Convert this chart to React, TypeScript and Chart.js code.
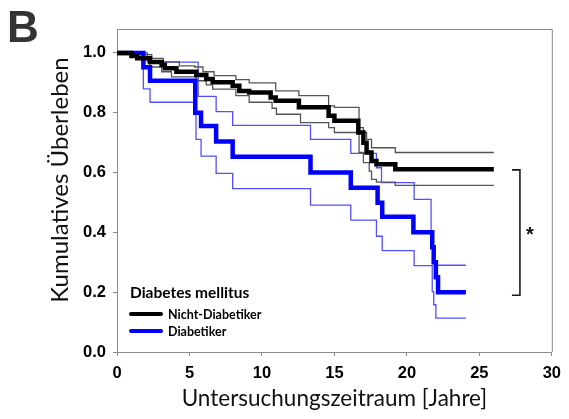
import React, { useEffect, useRef } from 'react';
import { Chart, registerables } from 'chart.js';

Chart.register(...registerables);

// ---- Data ----
const xTickStep = 5;
const yTickStep = 0.2;
const xMax = 30;
const yMax = 1.08;

// Nicht-Diabetiker (Kaplan-Meier estimate)
const nichtTimes = [0, 1.0, 1.4, 2.28, 3.08, 3.3, 4.1, 5.47, 6.16, 6.6, 7.98, 8.44, 9.12, 10.6, 10.95, 12.55, 14.6, 15.0, 16.65, 17.0, 17.22, 17.56, 17.9, 19.2, 26.0];
const nichtSurv = [1.0, 0.99, 0.982, 0.97, 0.96, 0.949, 0.937, 0.926, 0.913, 0.902, 0.89, 0.873, 0.868, 0.851, 0.84, 0.818, 0.79, 0.773, 0.734, 0.70, 0.667, 0.639, 0.628, 0.611, 0.611];
// Nicht-Diabetiker upper CI
const nichtUpTimes = [0, 1.3, 2.4, 3.19, 4.3, 5.36, 5.93, 6.7, 8.2, 9.12, 10.95, 12.55, 14.6, 15.0, 16.7, 17.0, 17.22, 17.56, 19.2, 26.0];
const nichtUpSurv = [1.0, 0.994, 0.982, 0.97, 0.957, 0.953, 0.937, 0.924, 0.911, 0.9, 0.873, 0.857, 0.823, 0.818, 0.75, 0.734, 0.711, 0.683, 0.667, 0.667];
// Nicht-Diabetiker lower CI
const nichtLoTimes = [0, 1.3, 2.28, 3.08, 3.76, 5.47, 6.16, 6.6, 8.2, 9.12, 10.7, 11.0, 12.66, 14.6, 15.0, 16.7, 17.0, 17.4, 17.56, 17.9, 19.2, 26.0];
const nichtLoSurv = [1.0, 0.98, 0.953, 0.937, 0.92, 0.907, 0.893, 0.879, 0.857, 0.835, 0.815, 0.795, 0.767, 0.75, 0.734, 0.667, 0.633, 0.605, 0.577, 0.568, 0.557, 0.557];

// Diabetiker (Kaplan-Meier estimate)
const diabTimes = [0, 1.82, 2.28, 5.4, 5.8, 6.84, 7.98, 13.35, 16.13, 17.98, 18.3, 20.45, 21.75, 21.85, 22.0, 22.15, 24.07];
const diabSurv = [1.0, 0.952, 0.907, 0.80, 0.756, 0.704, 0.653, 0.60, 0.549, 0.499, 0.452, 0.40, 0.35, 0.30, 0.25, 0.20, 0.20];
// Diabetiker upper CI
const diabUpTimes = [0, 2.1, 5.6, 6.84, 7.98, 13.35, 16.13, 17.9, 18.25, 20.5, 21.67, 21.9, 24.07];
const diabUpSurv = [1.0, 0.969, 0.855, 0.804, 0.758, 0.711, 0.664, 0.616, 0.566, 0.51, 0.35, 0.29, 0.29];
// Diabetiker lower CI
const diabLoTimes = [0, 1.82, 2.28, 5.45, 5.8, 6.84, 7.98, 13.35, 16.13, 17.9, 18.3, 20.5, 21.75, 21.85, 22.0, 24.07];
const diabLoSurv = [1.0, 0.88, 0.835, 0.711, 0.655, 0.597, 0.546, 0.491, 0.441, 0.387, 0.339, 0.289, 0.202, 0.158, 0.113, 0.113];

// Significance bracket values
const bracketTop = 0.609;
const bracketBottom = 0.19;
const bracketX = 27.8;
const bracketTickX = 27.25;

const xTitle = 'Untersuchungszeitraum [Jahre]';
const yTitle = 'Kumulatives Überleben';
const legendTitle = 'Diabetes mellitus';
const seriesNames = ['Nicht-Diabetiker', 'Diabetiker'];
const seriesColors = ['#000000', '#0000ff'];
const ciColors = ['#555555', '#5050ff'];

const toPoints = (t: number[], s: number[]) => t.map((x, i) => ({ x, y: s[i] }));

const boxPlugin = {
  id: 'boxAndExtras',
  afterDraw(chart: any) {
    const { ctx, chartArea } = chart;
    const xs = chart.scales.x;
    const ys = chart.scales.y;
    ctx.save();
    // frame top/right
    ctx.strokeStyle = '#8a8a8a';
    ctx.lineWidth = 1;
    ctx.beginPath();
    ctx.moveTo(chartArea.left, chartArea.top + 0.5);
    ctx.lineTo(chartArea.right + 0.5, chartArea.top + 0.5);
    ctx.lineTo(chartArea.right + 0.5, chartArea.bottom);
    ctx.stroke();

    // Panel letter
    ctx.fillStyle = '#333333';
    ctx.font = 'bold 44px "Liberation Sans", Arial, sans-serif';
    ctx.textBaseline = 'alphabetic';
    ctx.textAlign = 'left';
    ctx.fillText('B', 7, 42);

    // Y axis title
    ctx.save();
    ctx.translate(60, chartArea.top + 151);
    ctx.rotate(-Math.PI / 2);
    ctx.fillStyle = '#111';
    ctx.font = '24px Lato, sans-serif';
    ctx.textAlign = 'center';
    ctx.textBaseline = 'middle';
    ctx.fillText(yTitle, 0, 0);
    ctx.restore();

    // Legend
    const lx = chartArea.left + 13;
    const lb = chartArea.bottom;
    ctx.fillStyle = '#000';
    ctx.font = 'bold 15.5px Lato, sans-serif';
    ctx.textBaseline = 'middle';
    ctx.textAlign = 'left';
    ctx.fillText(legendTitle, lx, lb - 59);
    ctx.font = 'bold 12.5px Lato, sans-serif';
    seriesNames.forEach((name, i) => {
      const yy = lb - 38 + i * 17;
      ctx.strokeStyle = seriesColors[i];
      ctx.lineWidth = 4;
      ctx.lineCap = 'round';
      ctx.beginPath();
      ctx.moveTo(lx + 1, yy);
      ctx.lineTo(lx + 31, yy);
      ctx.stroke();
      ctx.fillStyle = '#000';
      ctx.fillText(name, lx + 38, yy + 0.5);
    });

    // Significance bracket
    const bx = xs.getPixelForValue(bracketX);
    const btx = xs.getPixelForValue(bracketTickX);
    const by1 = ys.getPixelForValue(bracketTop);
    const by2 = ys.getPixelForValue(bracketBottom);
    ctx.strokeStyle = '#1a1a1a';
    ctx.lineWidth = 1.6;
    ctx.lineCap = 'butt';
    ctx.beginPath();
    ctx.moveTo(btx, by1);
    ctx.lineTo(bx, by1);
    ctx.lineTo(bx, by2);
    ctx.lineTo(btx, by2);
    ctx.stroke();
    ctx.fillStyle = '#111';
    ctx.font = 'bold 20px "Liberation Sans", Arial, sans-serif';
    ctx.textAlign = 'center';
    ctx.textBaseline = 'middle';
    ctx.fillText('*', bx + 10, (by1 + by2) / 2 + 3);
    ctx.restore();
  },
};

export default function App() {
  const canvasRef = useRef<HTMLCanvasElement | null>(null);

  useEffect(() => {
    if (!canvasRef.current) return;
    const mk = (label: string, t: number[], s: number[], color: string, width: number) => ({
      label,
      data: toPoints(t, s),
      borderColor: color,
      backgroundColor: color,
      borderWidth: width,
      pointRadius: 0,
      stepped: 'before' as const,
      fill: false,
      tension: 0,
    });
    const chart = new Chart(canvasRef.current, {
      type: 'line',
      data: {
        datasets: [
          mk(seriesNames[0], nichtTimes, nichtSurv, seriesColors[0], 4.5),
          mk(seriesNames[1], diabTimes, diabSurv, seriesColors[1], 4.5),
          mk('Nicht-Diabetiker 95% KI oben', nichtUpTimes, nichtUpSurv, ciColors[0], 1.3),
          mk('Nicht-Diabetiker 95% KI unten', nichtLoTimes, nichtLoSurv, ciColors[0], 1.3),
          mk('Diabetiker 95% KI oben', diabUpTimes, diabUpSurv, ciColors[1], 1.3),
          mk('Diabetiker 95% KI unten', diabLoTimes, diabLoSurv, ciColors[1], 1.3),
        ],
      },
      options: {
        responsive: false,
        animation: false,
        layout: { padding: { left: 0, top: 29, right: 14, bottom: 0 } },
        plugins: {
          legend: { display: false },
          tooltip: { enabled: false },
        },
        scales: {
          x: {
            type: 'linear',
            min: 0,
            max: xMax,
            afterFit: (scale: any) => { scale.height = 67; },
            ticks: {
              stepSize: xTickStep,
              color: '#000',
              font: { family: '"Liberation Sans", Arial, sans-serif', size: 16.5, weight: 'bold' },
              padding: 8,
            },
            grid: { drawOnChartArea: false, drawTicks: true, tickLength: 4, color: '#8a8a8a' },
            border: { color: '#8a8a8a', width: 1 },
            title: {
              display: true,
              text: xTitle,
              color: '#111',
              font: { family: 'Lato, sans-serif', size: 22.5 },
              padding: { top: 0, bottom: 7 },
            },
          },
          y: {
            type: 'linear',
            min: 0,
            max: yMax,
            afterFit: (scale: any) => { scale.width = 117; },
            afterBuildTicks: (scale: any) => {
              scale.ticks = scale.ticks.filter((t: any) => t.value <= 1.0001);
            },
            ticks: {
              stepSize: yTickStep,
              color: '#000',
              font: { family: '"Liberation Sans", Arial, sans-serif', size: 16.5, weight: 'bold' },
              padding: 7,
              callback: (v: any) => Number(v).toFixed(1),
            },
            grid: { drawOnChartArea: false, drawTicks: true, tickLength: 4, color: '#8a8a8a' },
            border: { color: '#8a8a8a', width: 1 },
          },
        },
      },
      plugins: [boxPlugin],
    });
    return () => chart.destroy();
  }, []);

  return (
    <div style={{ position: 'fixed', left: 0, top: 0, width: 569, height: 419, background: '#fff' }}>
      <canvas ref={canvasRef} width={569} height={419} />
    </div>
  );
}
